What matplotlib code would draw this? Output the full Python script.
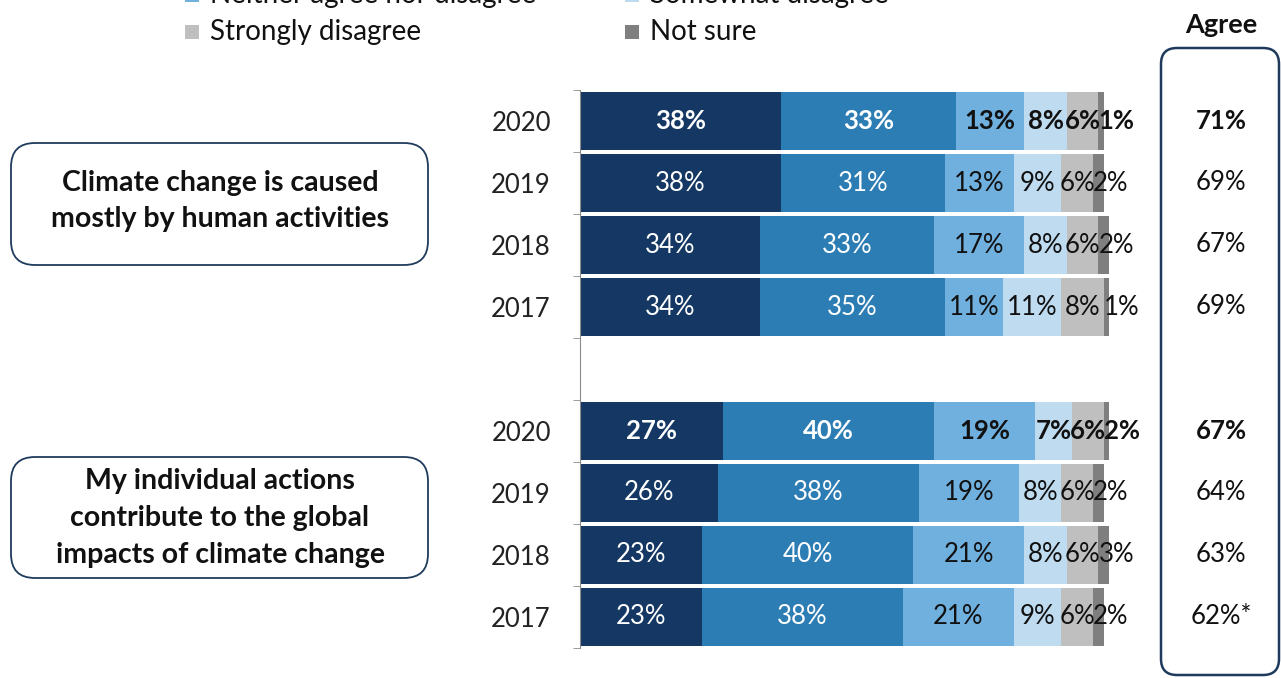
import numpy as np
import matplotlib
matplotlib.use("Agg")
import matplotlib.pyplot as plt
from matplotlib.patches import FancyBboxPatch, Rectangle

plt.rcParams['font.family'] = ['Lato', 'DejaVu Sans']

# survey data: share of responses per year (%)
categories = ["Strongly agree", "Somewhat agree", "Neither agree nor disagree",
              "Somewhat disagree", "Strongly disagree", "Not sure"]
colors = ["#143863", "#2d7db5", "#70b0df", "#bfdbf0", "#bfbfbf", "#7f7f7f"]
years = ["2020", "2019", "2018", "2017"]

human_activity = [
    [38, 33, 13, 8, 6, 1],
    [38, 31, 13, 9, 6, 2],
    [34, 33, 17, 8, 6, 2],
    [34, 35, 11, 11, 8, 1],
]
individual_actions = [
    [27, 40, 19, 7, 6, 2],
    [26, 38, 19, 8, 6, 2],
    [23, 40, 21, 8, 6, 3],
    [23, 38, 21, 9, 6, 2],
]
agree_human = ["71%", "69%", "67%", "69%"]
agree_individual = ["67%", "64%", "63%", "62%*"]
statements = ["Climate change is caused\nmostly by human activities",
              "My individual actions\ncontribute to the global\nimpacts of climate change"]

W, H = 1281, 678
fig = plt.figure(figsize=(W / 100, H / 100), dpi=100)

# overlay in pixel units for boxes and free text
ov = fig.add_axes([0, 0, 1, 1])
ov.set_xlim(0, W)
ov.set_ylim(H, 0)
ov.axis("off")

ax = fig.add_axes([580 / W, (H - 648) / H, 529 / W, 558 / H])
rows = human_activity + [None] + individual_actions
labels = years + [""] + years
bold_rows = {0, 5}

for i, vals in enumerate(rows):
    if vals is None:
        continue
    left = 0
    for j, v in enumerate(vals):
        ax.barh(i, v, left=left, height=0.93, color=colors[j], linewidth=0)
        weight = "bold" if i in bold_rows else "normal"
        tc = "white" if j < 2 else "#111111"
        if j == len(vals) - 1:
            ax.text(left, i, f"{v}%", ha="left", va="center", fontsize=18.5,
                    color=tc, fontweight=weight, clip_on=False)
        else:
            ax.text(left + v / 2, i, f"{v}%", ha="center", va="center", fontsize=18.5,
                    color=tc, fontweight=weight)
        left += v

ax.set_xlim(0, 100)
ax.set_ylim(8.5, -0.5)
ax.set_yticks(range(9))
ax.set_yticklabels(labels, fontsize=18.5, color="#222222")
ax.tick_params(axis="y", which="major", length=0, pad=21)
ax.set_yticks(np.arange(-0.5, 9, 1), minor=True)
ax.tick_params(axis="y", which="minor", length=5, direction="out", color="#8c8c8c")
ax.set_xticks([])
for s in ["top", "right", "bottom"]:
    ax.spines[s].set_visible(False)
ax.spines["left"].set_color("#8c8c8c")
ax.patch.set_alpha(0)

# statement boxes on the left
edge = "#1f3b5c"
for (y0, y1), yc, txt in zip([(143, 265), (457, 578)], [201, 518], statements):
    ov.add_patch(FancyBboxPatch((11, y0), 417, y1 - y0,
                                boxstyle="round,pad=0,rounding_size=24",
                                fc="white", ec=edge, lw=1.3))
    ov.text(220, yc, txt, ha="center", va="center", fontsize=20.5,
            fontweight="bold", color="#111111", linespacing=1.5)

# agree column
ov.add_patch(FancyBboxPatch((1161, 48), 118, 627,
                            boxstyle="round,pad=0,rounding_size=16",
                            fc="none", ec=edge, lw=1.8))
ov.text(1221, 25, "Agree", ha="center", va="center", fontsize=19.5,
        fontweight="bold", color="#111111")
for i, lab in enumerate(agree_human + [None] + agree_individual):
    if lab is None:
        continue
    y = 121 + 62 * i
    ov.text(1221, y, lab, ha="center", va="center", fontsize=18.5,
            fontweight="bold" if i in bold_rows else "normal", color="#111111")

# legend, two columns (top row runs off the canvas)
for k, name in enumerate(categories):
    col, row = k % 2, k // 2
    y = -42 + 37 * row
    x = 185 if col == 0 else 625
    ov.add_patch(Rectangle((x, y - 7), 14, 14, fc=colors[k], ec="none", clip_on=False))
    ov.text(x + 25, y, name, ha="left", va="center", fontsize=20,
            color="#111111", clip_on=False)

fig.savefig("out.png", dpi=100)
